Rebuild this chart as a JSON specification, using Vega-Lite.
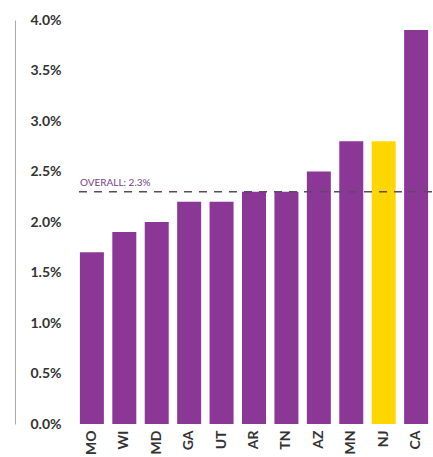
{
  "$schema": "https://vega.github.io/schema/vega-lite/v6.json",
  "autosize": "none",
  "width": 356,
  "height": 404,
  "padding": {"left": 76, "top": 20, "right": 1, "bottom": 33},
  "background": "white",
  "config": {"view": {"stroke": null}, "font": "Lato"},
  "datasets": {
    "rates": [
      {"state": "MO", "rate": 0.017},
      {"state": "WI", "rate": 0.019},
      {"state": "MD", "rate": 0.020},
      {"state": "GA", "rate": 0.022},
      {"state": "UT", "rate": 0.022},
      {"state": "AR", "rate": 0.023},
      {"state": "TN", "rate": 0.023},
      {"state": "AZ", "rate": 0.025},
      {"state": "MN", "rate": 0.028},
      {"state": "NJ", "rate": 0.028},
      {"state": "CA", "rate": 0.039}
    ],
    "overall": [{"label": "OVERALL: 2.3%", "rate": 0.023, "state": "MO"}]
  },
  "layer": [
    {
      "data": {"name": "rates"},
      "mark": {"type": "bar"},
      "encoding": {
        "x": {
          "field": "state", "type": "nominal",
          "sort": ["MO", "WI", "MD", "GA", "UT", "AR", "TN", "AZ", "MN", "NJ", "CA"],
          "scale": {"paddingInner": 0.26, "paddingOuter": 0.12},
          "axis": {
            "title": null, "domain": false, "ticks": false, "labelAngle": -90,
            "labelFontSize": 14, "labelFontWeight": "bold", "labelColor": "#333333",
            "labelPadding": 6
          }
        },
        "y": {
          "field": "rate", "type": "quantitative",
          "scale": {"domain": [0, 0.04], "nice": false},
          "axis": {
            "title": null, "format": ".1%", "values": [0, 0.005, 0.01, 0.015, 0.02, 0.025, 0.03, 0.035, 0.04],
            "grid": false, "ticks": false, "offset": 61, "domainColor": "#aaaaaa",
            "labelAlign": "left", "labelPadding": -15, "labelFontSize": 14,
            "labelFontWeight": "bold", "labelColor": "#333333"
          }
        },
        "color": {
          "condition": {"test": "datum.state === 'NJ'", "value": "#FFD700"},
          "value": "#8B3795"
        }
      }
    },
    {
      "data": {"name": "overall"},
      "mark": {"type": "rule", "strokeDash": [8, 7], "color": "#5a4a66", "strokeWidth": 1.5},
      "encoding": {"y": {"field": "rate", "type": "quantitative"}}
    },
    {
      "data": {"name": "overall"},
      "mark": {"type": "text", "align": "left", "baseline": "bottom", "dy": -4, "fontSize": 10, "color": "#7a3d8a"},
      "encoding": {
        "x": {
          "field": "state", "type": "nominal", "bandPosition": 0,
          "sort": ["MO", "WI", "MD", "GA", "UT", "AR", "TN", "AZ", "MN", "NJ", "CA"]
        },
        "y": {"field": "rate", "type": "quantitative"},
        "text": {"field": "label"}
      }
    }
  ]
}
